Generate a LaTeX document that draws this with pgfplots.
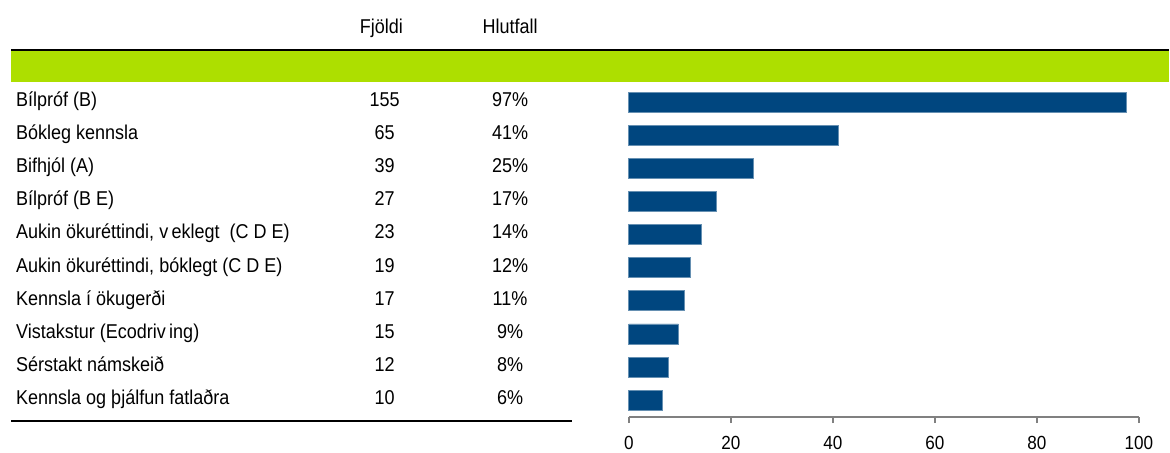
\documentclass[border=0pt]{standalone}
\usepackage{fontspec}
\setmainfont{Liberation Sans}[FakeStretch=0.9]
\usepackage{pgfplots}
\usepackage{pgfplotstable}
\pgfplotsset{compat=1.18}

\definecolor{barblue}{RGB}{0,70,127}
\definecolor{bandgreen}{RGB}{173,223,0}
\definecolor{axisgray}{RGB}{128,128,128}

% label ; count ; shown percent ; bar value
\pgfplotstableread[col sep=semicolon]{
label;n;pct;val
Bílpróf (B);155;97;97.5
Bókleg kennsla;65;41;41.0
Bifhjól (A);39;25;24.5
Bílpróf (B E);27;17;17.2
Aukin ökuréttindi, v\,eklegt\ \ (C D E);23;14;14.3
Aukin ökuréttindi, bóklegt (C D E);19;12;12.1
Kennsla í ökugerði;17;11;10.8
Vistakstur (Ecodriv\,ing);15;9;9.7
Sérstakt námskeið;12;8;7.8
Kennsla og þjálfun fatlaðra;10;6;6.6
}\data

\begin{document}
\begin{tikzpicture}
\begin{axis}[
    x=2.55pt, y=16.55pt,
    scale only axis,
    xmin=0, xmax=100,
    ymin=-0.62, ymax=9.51,
    y dir=reverse,
    clip=false,
    axis x line=bottom,
    axis y line=none,
    axis line style={axisgray, line width=1.2pt, -},
    xtick={0,20,...,100},
    tick align=outside,
    major tick length=3pt,
    tick style={axisgray, line width=1pt},
    /pgf/number format/assume math mode=true,
    xticklabel style={font=\fontsize{9.5}{10}\selectfont, yshift=-3pt},
    ytick=\empty,
    font=\fontsize{10}{12}\selectfont,
]
% header band and rules
\fill[bandgreen] (axis cs:-121.1,-1.54) rectangle (axis cs:106,-0.62);
\draw[black, line width=1.2pt] (axis cs:-121.1,-1.58) -- (axis cs:106,-1.58);
\draw[black, line width=1pt] (axis cs:-121.1,9.63) -- (axis cs:-11.1,9.63);
\node[anchor=base] at (axis cs:-48.5,-2.09) {Fjöldi};
\node[anchor=base] at (axis cs:-23.3,-2.09) {Hlutfall};

% bars
\addplot[xbar, bar width=10pt, fill=barblue, draw=barblue!60!white, line width=0.4pt]
    table[x=val, y expr=\coordindex] {\data};

% text columns
\addplot[draw=none, mark=none, nodes near coords, point meta=explicit symbolic,
    nodes near coords style={anchor=base west, inner sep=0pt}]
    table[x expr=-120.2, y expr=\coordindex+0.13, meta=label] {\data};
\addplot[draw=none, mark=none, nodes near coords, point meta=explicit symbolic,
    nodes near coords style={anchor=base, inner sep=0pt}]
    table[x expr=-47.9, y expr=\coordindex+0.13, meta=n] {\data};
\addplot[draw=none, mark=none, nodes near coords={\pgfplotspointmeta\%},
    point meta=explicit symbolic,
    nodes near coords style={anchor=base, inner sep=0pt}]
    table[x expr=-23.3, y expr=\coordindex+0.13, meta=pct] {\data};

\coordinate (bl) at (axis cs:-123.3,10.57);
\coordinate (tr) at (axis cs:106.1,-3.09);
\end{axis}
\pgfresetboundingbox
\path[use as bounding box] (bl) rectangle (tr);
\end{tikzpicture}
\end{document}
